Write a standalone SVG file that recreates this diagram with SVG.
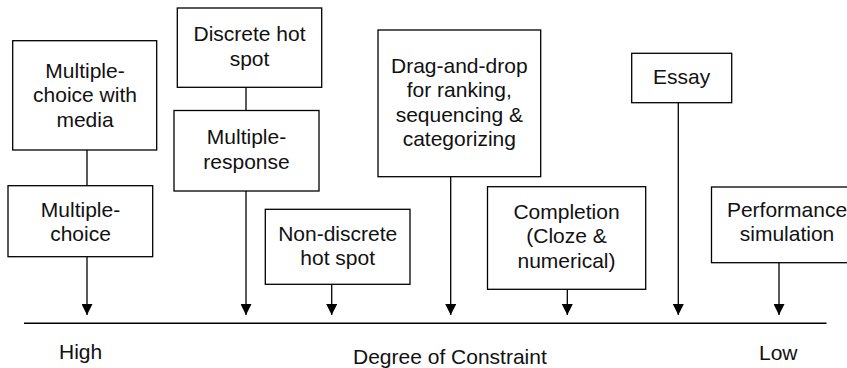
<svg xmlns="http://www.w3.org/2000/svg" width="847" height="368" viewBox="0 0 847 368">
<style>
  .box rect { fill: #ffffff; stroke: #000000; stroke-width: 1.3; }
  text { font-family: "Liberation Sans", Arial, Helvetica, sans-serif; font-size: 21px; fill: #111111; }
  .box text { text-anchor: middle; }
  .conn line { stroke: #000000; stroke-width: 1.3; }
  .axis { stroke: #000000; stroke-width: 1.5; }
</style>
<defs>
  <marker id="arr" viewBox="0 0 11 11" refX="11" refY="5.5" markerWidth="11" markerHeight="11" markerUnits="userSpaceOnUse" orient="auto">
    <path d="M0,0 L11,5.5 L0,11 Z" fill="#000000"/>
  </marker>
</defs>
<rect x="0" y="0" width="847" height="368" fill="#ffffff"/>

<g id="connectors" class="conn">
  <line x1="87" y1="150" x2="87" y2="186"/>
  <line x1="87" y1="257" x2="87" y2="315" marker-end="url(#arr)"/>
  <line x1="246" y1="87" x2="246" y2="110.5"/>
  <line x1="246" y1="191" x2="246" y2="315" marker-end="url(#arr)"/>
  <line x1="331.7" y1="284.5" x2="331.7" y2="315" marker-end="url(#arr)"/>
  <line x1="450.7" y1="176.7" x2="450.7" y2="315" marker-end="url(#arr)"/>
  <line x1="567.3" y1="289.3" x2="567.3" y2="315" marker-end="url(#arr)"/>
  <line x1="678.3" y1="102.7" x2="678.3" y2="315" marker-end="url(#arr)"/>
  <line x1="779" y1="262.7" x2="779" y2="315" marker-end="url(#arr)"/>
</g>

<g id="mc-media" class="box">
  <rect x="12.7" y="40.7" width="144" height="109.3"/>
  <text x="85" y="77.5">Multiple-</text>
  <text x="85" y="102">choice with</text>
  <text x="85" y="126.5">media</text>
</g>

<g id="mc" class="box">
  <rect x="8" y="185.7" width="144.7" height="71"/>
  <text x="80.5" y="217">Multiple-</text>
  <text x="80.5" y="241">choice</text>
</g>

<g id="discrete-hot-spot" class="box">
  <rect x="177.3" y="8" width="144.4" height="79.3"/>
  <text x="249.5" y="41">Discrete hot</text>
  <text x="249.5" y="65.5">spot</text>
</g>

<g id="multiple-response" class="box">
  <rect x="174" y="110.5" width="145" height="80.5"/>
  <text x="246.5" y="144.3">Multiple-</text>
  <text x="246.5" y="168.5">response</text>
</g>

<g id="non-discrete-hot-spot" class="box">
  <rect x="265.3" y="209.3" width="144.7" height="75"/>
  <text x="337.7" y="241">Non-discrete</text>
  <text x="337.7" y="265">hot spot</text>
</g>

<g id="drag-and-drop" class="box">
  <rect x="378" y="30" width="162.7" height="146.7"/>
  <text x="459.3" y="72.7">Drag-and-drop</text>
  <text x="459.3" y="97">for ranking,</text>
  <text x="459.3" y="121.5">sequencing &amp;</text>
  <text x="459.3" y="146">categorizing</text>
</g>

<g id="completion" class="box">
  <rect x="487.5" y="186.7" width="158.2" height="102.6"/>
  <text x="566.5" y="218.5">Completion</text>
  <text x="566.5" y="243.3">(Cloze &amp;</text>
  <text x="566.5" y="267.7">numerical)</text>
</g>

<g id="essay" class="box">
  <rect x="631.7" y="53.3" width="100" height="49.4"/>
  <text x="681.7" y="84.3">Essay</text>
</g>

<g id="performance" class="box">
  <rect x="711.5" y="187" width="152" height="75.7"/>
  <text x="787" y="216.5">Performance</text>
  <text x="787" y="240.5">simulation</text>
</g>

<g id="axis">
  <line class="axis" x1="24" y1="323.3" x2="826.5" y2="323.3"/>
  <text x="59" y="359">High</text>
  <text x="353" y="364">Degree of Constraint</text>
  <text x="759" y="360">Low</text>
</g>
</svg>
